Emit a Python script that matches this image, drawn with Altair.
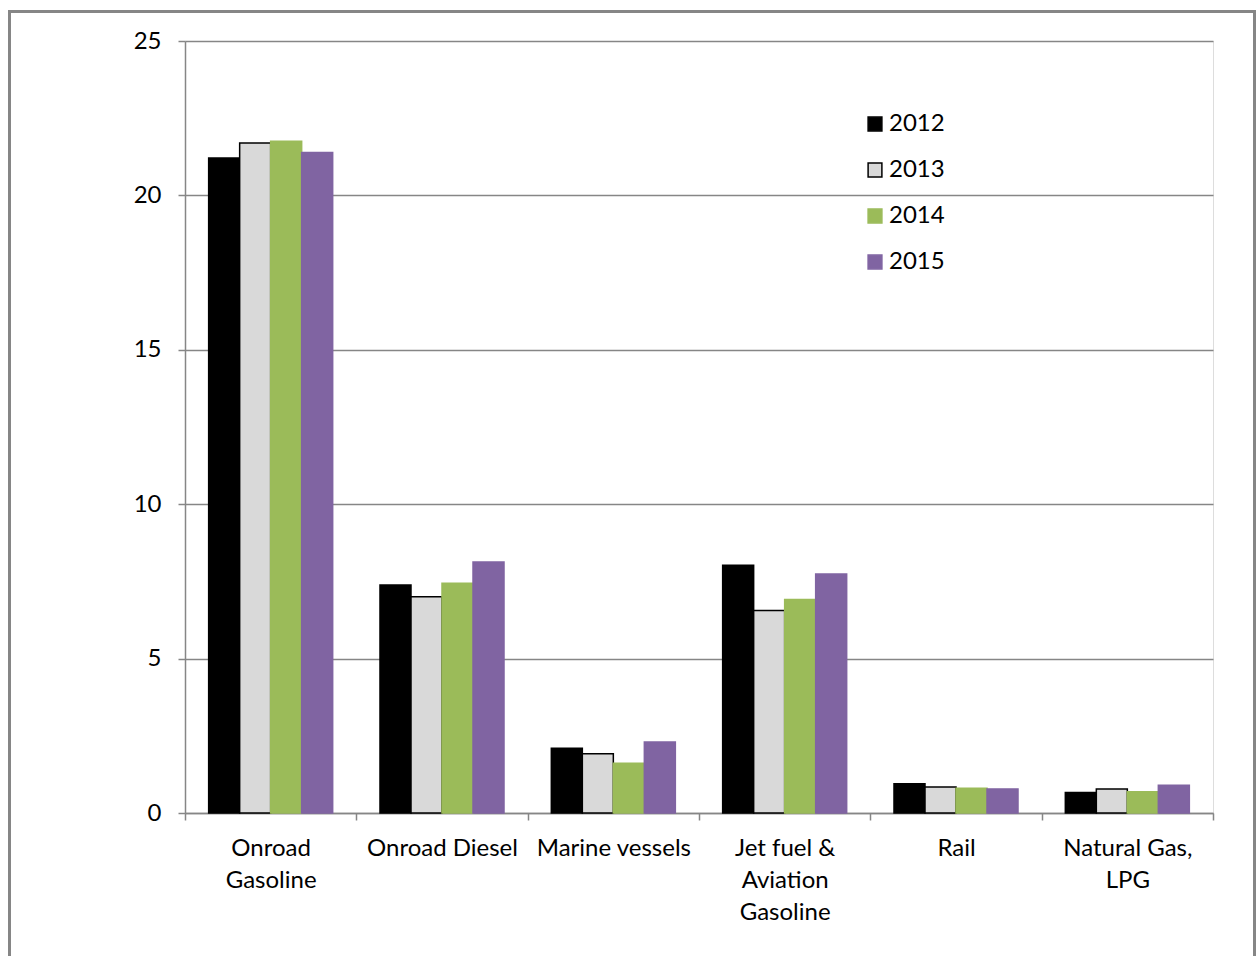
import altair as alt
import pandas as pd

categories = ["Onroad Gasoline", "Onroad Diesel", "Marine vessels",
              "Jet fuel & Aviation Gasoline", "Rail", "Natural Gas, LPG"]
cat_labels = ["Onroad\nGasoline", "Onroad Diesel", "Marine vessels",
              "Jet fuel &\nAviation\nGasoline", "Rail", "Natural Gas,\nLPG"]
years = ["2012", "2013", "2014", "2015"]
v2012 = [21.21, 7.38, 2.10, 8.02, 0.95, 0.66]
v2013 = [21.70, 7.00, 1.92, 6.56, 0.84, 0.78]
v2014 = [21.75, 7.44, 1.61, 6.91, 0.80, 0.69]
v2015 = [21.39, 8.13, 2.30, 7.74, 0.78, 0.90]
fills = ["#000000", "#D9D9D9", "#9BBB59", "#8064A2"]
strokes = ["#000000", "#000000", "#9BBB59", "#8064A2"]

rows = []
for y, vals in zip(years, [v2012, v2013, v2014, v2015]):
    for lab, v in zip(cat_labels, vals):
        rows.append({"cat": lab, "year": y, "value": v})
df = pd.DataFrame(rows)

FONT = "Lato"
FS = 24
GRID = "#868686"

bars = alt.Chart(df).mark_bar(strokeWidth=1.5).encode(
    x=alt.X("cat:N", sort=cat_labels, title=None,
            scale=alt.Scale(paddingInner=0, paddingOuter=0),
            axis=alt.Axis(labelAngle=0, labelExpr="split(datum.label, '\\n')",
                          labelLineHeight=32, labelFontSize=FS, labelFont=FONT,
                          labelColor="#000000", labelPadding=16,
                          tickBand="extent", tickSize=7, tickColor=GRID, tickWidth=1.5,
                          domainColor=GRID, domainWidth=1.5, grid=False)),
    xOffset=alt.XOffset("year:N", sort=years,
                        scale=alt.Scale(paddingInner=0, paddingOuter=0.763)),
    y=alt.Y("value:Q", title=None,
            scale=alt.Scale(domain=[0, 25], nice=False),
            axis=alt.Axis(values=[0, 5, 10, 15, 20, 25], tickSize=7, tickColor=GRID,
                          tickWidth=1.5,
                          domainColor=GRID, domainWidth=1.5, gridColor=GRID, gridWidth=1.5,
                          labelFontSize=FS, labelFont=FONT, labelColor="#000000",
                          labelPadding=17)),
    fill=alt.Fill("year:N", sort=years, scale=alt.Scale(domain=years, range=fills),
                  legend=alt.Legend(title=None, orient="none", legendX=678, legendY=71,
                                    symbolType="square", symbolSize=190, symbolStrokeWidth=1.5,
                                    labelFontSize=FS, labelFont=FONT, labelColor="#000000",
                                    rowPadding=22, labelOffset=2)),
    stroke=alt.Stroke("year:N", sort=years, scale=alt.Scale(domain=years, range=strokes),
                      legend=None),
)

frame = alt.Chart(pd.DataFrame({"a": [0]})).mark_rect(
    fill=None, stroke=GRID, strokeWidth=3
).encode(
    x=alt.value(-175.5), x2=alt.value(1069.5),
    y=alt.value(-29.5), y2=alt.value(940),
)

chart = alt.layer(bars, frame).properties(
    width=1028, height=772,
    padding={"left": 185, "top": 41, "right": 44, "bottom": 143},
    autosize=alt.AutoSizeParams(type="none"),
).configure_view(stroke=None).configure(background="white")

chart.save("out.html", embed_options={"renderer": "svg", "actions": False})
